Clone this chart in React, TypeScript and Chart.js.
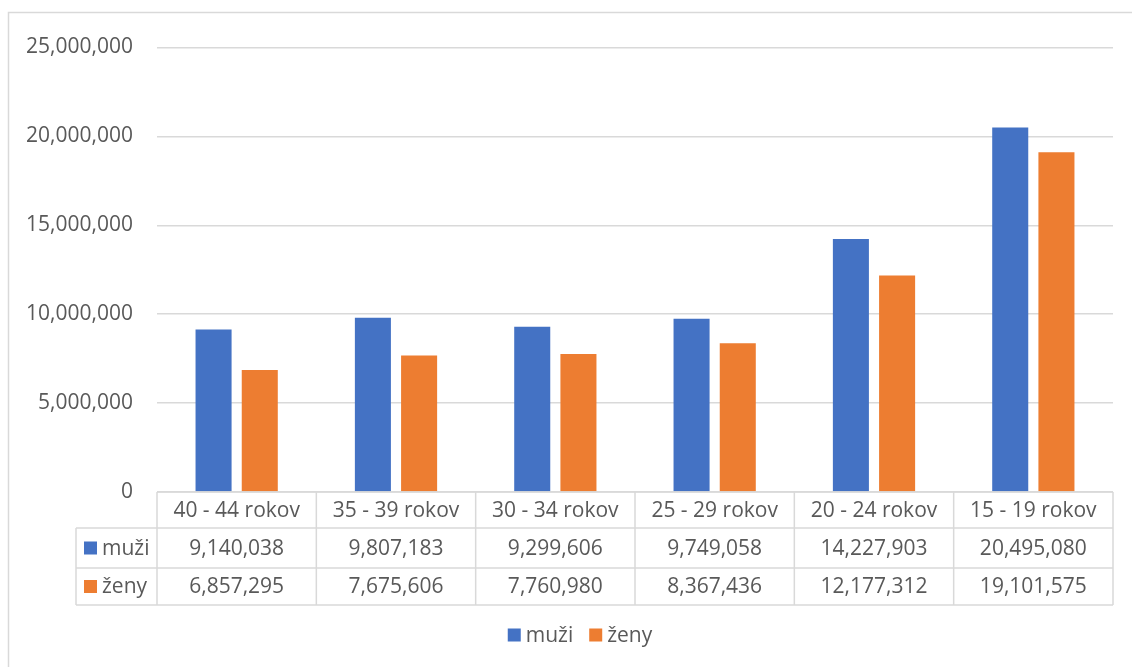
import React, { useEffect, useRef } from "react";
import { Chart, registerables } from "chart.js";

Chart.register(...registerables);

const categories = ["40 - 44 rokov", "35 - 39 rokov", "30 - 34 rokov", "25 - 29 rokov", "20 - 24 rokov", "15 - 19 rokov"];
const muzi = [9140038, 9807183, 9299606, 9749058, 14227903, 20495080];
const zeny = [6857295, 7675606, 7760980, 8367436, 12177312, 19101575];
const seriesNames = ["muži", "ženy"];
const seriesColors = ["#4472C4", "#ED7D31"];

const FONT = "'Open Sans', 'Noto Sans', sans-serif";
const TEXT = "#595959";
const LINE = "#d9d9d9";

const fmt = (v: number) => v.toLocaleString("en-US");

const tablePlugin = {
  id: "dataTable",
  afterDraw(chart: any) {
    const ctx = chart.ctx as CanvasRenderingContext2D;
    const area = chart.chartArea;
    const xs = chart.scales.x;
    const n = categories.length;
    const colW = (area.right - area.left) / n;
    const top = area.bottom;
    const r1 = top + 36;
    const r2 = r1 + 40;
    const r3 = r2 + 37;
    const labelLeft = 76;

    ctx.save();
    // outer frame
    ctx.strokeStyle = LINE;
    ctx.lineWidth = 1.5;
    ctx.beginPath();
    ctx.moveTo(8.5, chart.height + 5);
    ctx.lineTo(8.5, 12.5);
    ctx.lineTo(chart.width + 5, 12.5);
    ctx.stroke();

    // table grid
    ctx.lineWidth = 1.5;
    ctx.beginPath();
    ctx.moveTo(area.left, top);
    ctx.lineTo(area.right, top);
    [r1, r2, r3].forEach((y) => {
      ctx.moveTo(labelLeft, y);
      ctx.lineTo(area.right, y);
    });
    ctx.moveTo(labelLeft, r1);
    ctx.lineTo(labelLeft, r3);
    for (let i = 0; i <= n; i++) {
      const x = area.left + i * colW;
      ctx.moveTo(x, top);
      ctx.lineTo(x, r3);
    }
    ctx.stroke();

    ctx.font = `21px ${FONT}`;
    ctx.fillStyle = TEXT;
    ctx.textAlign = "center";
    ctx.textBaseline = "middle";
    for (let i = 0; i < n; i++) {
      const cx = xs.getPixelForValue(i);
      ctx.fillText(categories[i], cx, (top + r1) / 2 + 1);
      ctx.fillText(fmt(muzi[i]), cx, (r1 + r2) / 2 + 1);
      ctx.fillText(fmt(zeny[i]), cx, (r2 + r3) / 2 + 1);
    }

    // row headers
    const rows = [(r1 + r2) / 2, (r2 + r3) / 2];
    ctx.textAlign = "left";
    rows.forEach((cy, k) => {
      ctx.fillStyle = seriesColors[k];
      ctx.fillRect(84, cy - 6.5, 13, 13);
      ctx.fillStyle = TEXT;
      ctx.fillText(seriesNames[k], 102, cy + 1);
    });

    // legend
    const ly = 635;
    const sq = 13;
    const gap = 5;
    const itemGap = 16;
    const widths = seriesNames.map((s) => sq + gap + ctx.measureText(s).width);
    const total = widths[0] + itemGap + widths[1];
    let lx = 580 - total / 2;
    seriesNames.forEach((s, k) => {
      ctx.fillStyle = seriesColors[k];
      ctx.fillRect(lx, ly - sq / 2, sq, sq);
      ctx.fillStyle = TEXT;
      ctx.fillText(s, lx + sq + gap, ly + 1);
      lx += widths[k] + itemGap;
    });
    ctx.restore();
  },
};

export default function App() {
  const ref = useRef<HTMLCanvasElement>(null);
  useEffect(() => {
    if (!ref.current) return;
    const chart = new Chart(ref.current, {
      type: "bar",
      data: {
        labels: categories,
        datasets: [
          { label: seriesNames[0], data: muzi, backgroundColor: seriesColors[0], categoryPercentage: 0.58, barPercentage: 0.78 },
          { label: seriesNames[1], data: zeny, backgroundColor: seriesColors[1], categoryPercentage: 0.58, barPercentage: 0.78 },
        ],
      },
      options: {
        animation: false,
        responsive: false,
        maintainAspectRatio: false,
        layout: { padding: { left: 0, right: 19, top: 47.5, bottom: 175 } },
        plugins: { legend: { display: false }, tooltip: { enabled: false } },
        scales: {
          x: { display: false },
          y: {
            min: 0,
            max: 25000000,
            afterFit: (s: any) => {
              s.width = 157;
            },
            ticks: {
              stepSize: 5000000,
              padding: 24,
              color: TEXT,
              font: { family: FONT, size: 21 },
              callback: (v: any) => fmt(Number(v)),
            },
            grid: { color: LINE, lineWidth: 1.5, drawTicks: false },
            border: { display: false },
          },
        },
      },
      plugins: [tablePlugin],
    });
    return () => chart.destroy();
  }, []);
  return (
    <div style={{ position: "fixed", left: 0, top: 0, width: 1132, height: 667, background: "#fff" }}>
      <canvas ref={ref} width={1132} height={667} style={{ display: "block" }} />
    </div>
  );
}
